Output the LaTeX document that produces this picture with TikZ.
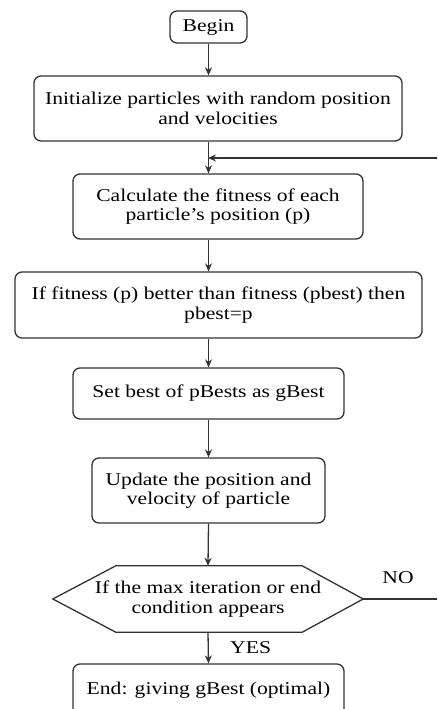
\documentclass[tikz,border=0pt]{standalone}
\usepackage{fontspec}
\setmainfont{Liberation Serif}[FakeStretch=1.2]
\usetikzlibrary{positioning,arrows.meta}
\tikzset{
  stepbox/.style={draw=black!80, line width=1.3pt, rounded corners=7pt, align=center,
    inner sep=0pt, font=\fontsize{18}{19.5}\selectfont},
  flow/.style={draw=black!80, line width=1.3pt, -{Stealth[length=8pt,width=7pt]}}
}

\begin{document}
\begin{tikzpicture}[x=1pt,y=-1pt]
  \useasboundingbox (0,0) rectangle (437,709);
  \clip (0,0) rectangle (437,709);
  \node[stepbox, minimum width=77pt, minimum height=32pt] (begin) at (208.5,27) {Begin};
  \node[stepbox, minimum width=368pt, minimum height=65pt] (init) at (218,108.5)
    {Initialize particles with random position\\and velocities};
  \node[stepbox, minimum width=290pt, minimum height=65pt] (calc) at (218,206.5)
    {Calculate the fitness of each\\particle’s position (p)};
  \node[stepbox, minimum width=407pt, minimum height=66pt] (pbest) at (218.5,305)
    {If fitness (p) better than fitness (pbest) then\\pbest=p};
  \node[stepbox, minimum width=271pt, minimum height=51pt] (gbest) at (208.5,393.5)
    {Set best of pBests as gBest};
  \node[stepbox, minimum width=233pt, minimum height=65pt] (update) at (208.5,490.5)
    {Update the position and\\velocity of particle};
  % hexagon drawn by hand round a plain node
  \node[align=center, inner sep=0pt, minimum width=310pt, minimum height=66pt,
    font=\fontsize{18}{19.5}\selectfont] (check) at (208,599)
    {If the max iteration or end\\condition appears};
  \draw[draw=black!80, line width=1.3pt] (check.west) -- ([xshift=63pt]check.north west)
    -- ([xshift=-61pt]check.north east) -- (check.east)
    -- ([xshift=-61pt]check.south east) -- ([xshift=63pt]check.south west) -- cycle;
  \node[stepbox, minimum width=271pt, minimum height=52pt] (end) at (208.5,690)
    {End: giving gBest (optimal)};

  \coordinate (loop) at (208,158);
  \draw[flow] (begin.south) -- (init.north -| begin.south);
  \draw[flow] (init.south -| begin.south) -- (calc.north -| begin.south);
  \draw[flow] (calc.south -| begin.south) -- (pbest.north -| begin.south);
  \draw[flow] (pbest.south -| begin.south) -- (gbest.north);
  \draw[flow] (gbest.south) -- (update.north);
  \draw[flow] (update.south) -- (check.north);
  \draw[flow] (check.south) -- (end.north) node[midway, right=18pt, font=\fontsize{18}{19.5}\selectfont] (yes) {YES};
  \draw[flow] (check.east) -- (450,599) |- (loop);
  \node[font=\fontsize{18}{19.5}\selectfont] (no) at (398,578) {NO};
\end{tikzpicture}
\end{document}
